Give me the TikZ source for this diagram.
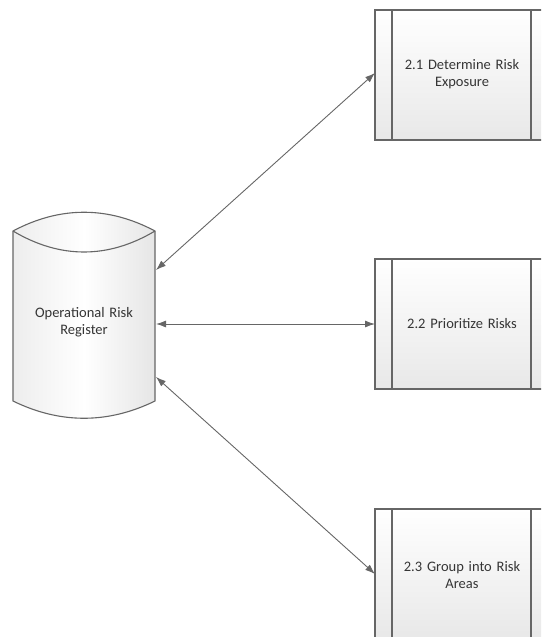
\documentclass[tikz,border=0pt]{standalone}
\usepackage{fontspec}
\setmainfont{Carlito}
\usetikzlibrary{arrows.meta}
\definecolor{edge}{HTML}{666666}
\definecolor{ink}{HTML}{353535}
\tikzset{
  outline/.style={draw=edge, line width=1.1pt},
  procbox/.style={outline, top color=white, bottom color=black!9},
  drum/.style={outline, left color=black!7, right color=black!10, middle color=white},
  label/.style={text=ink, font=\fontsize{14.5}{17.5}\selectfont, align=center, text width=140pt},
  link/.style={draw=edge, line width=0.9pt, {Latex[length=10pt,width=7pt]}-{Latex[length=10pt,width=7pt]}}
}
\begin{document}
\begin{tikzpicture}[x=1pt, y=-1pt]
  \useasboundingbox (0,0) rectangle (541,637);
  \begin{scope}
    \clip (0,0) rectangle (541,637);
    % predefined-process boxes
    \foreach \t in {10, 259, 509} {
      \path[procbox] (375,\t) rectangle (549,\t+130);
      \draw[outline] (392,\t) -- (392,\t+130);
      \draw[outline] (531,\t) -- (531,\t+130);
    }
    % data-store cylinder: body, then the front rim of the lid
    \path[drum] (13,231) .. controls (60,206) and (108,206) .. (155,231)
      -- (155,401) .. controls (108,424) and (60,424) .. (13,401) -- cycle;
    \draw[outline] (13,231) .. controls (60,259) and (108,259) .. (155,231);
  \end{scope}
  \node[label] (t1) at (462,74) {2.1 Determine Risk\\Exposure};
  \node[label] (t2) at (462,324) {2.2 Prioritize Risks};
  \node[label] (t3) at (462,575) {2.3 Group into Risk\\Areas};
  \node[label] (reg) at (84,322) {Operational Risk\\Register};
  \coordinate (r1) at (156,270);
  \coordinate (r2) at (156,324);
  \coordinate (r3) at (156,377);
  \coordinate (b1) at (375,73);
  \coordinate (b2) at (375,324);
  \coordinate (b3) at (375,574);
  \draw[link] (r1) -- (b1);
  \draw[link] (r2) -- (b2);
  \draw[link] (r3) -- (b3);
\end{tikzpicture}
\end{document}
